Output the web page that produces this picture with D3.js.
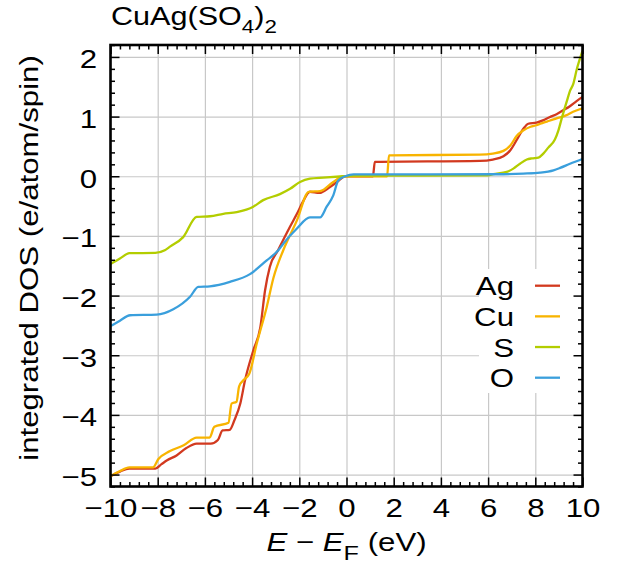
<!DOCTYPE html>
<html>
<head>
<meta charset="utf-8">
<script src="https://cdn.jsdelivr.net/npm/d3@7"></script>
<style>
  html, body { margin: 0; padding: 0; background: #fff; }
  svg { display: block; }
  text { font-family: "Liberation Sans", Arial, Helvetica, sans-serif; fill: #000; }
</style>
</head>
<body>
<svg id="chart" width="628" height="564"></svg>
<script>
// Integrated partial DOS of CuAg(SO4)2, per atom and spin, vs E - E_F (eV)
const agEnergy = [-10, -9.6, -9.2, -8.1, -7.85, -7.6, -7.2, -6.8, -6.35, -5.75, -5.45, -5.25, -4.95, -4.75, -4.5, -4.3, -3.95, -3.65, -3.45, -3.25, -2.9, -2.4, -2.1, -1.85, -1.55, -1.15, -0.7, -0.4, -0.05, 1.12, 1.2, 5.65, 6.2, 6.65, 6.95, 7.2, 7.5, 7.7, 8.05, 8.35, 8.6, 8.9, 9.2, 9.45, 9.75, 10];
const agIdos   = [-5.03, -4.95, -4.9, -4.9, -4.83, -4.76, -4.68, -4.56, -4.48, -4.48, -4.42, -4.26, -4.25, -4.09, -3.81, -3.42, -2.92, -2.53, -1.91, -1.52, -1.24, -0.85, -0.63, -0.43, -0.26, -0.28, -0.18, -0.095, 0, 0, 0.24, 0.257, 0.28, 0.335, 0.44, 0.6, 0.8, 0.88, 0.9, 0.94, 0.99, 1.04, 1.11, 1.17, 1.26, 1.33];

const cuEnergy = [-10, -9.6, -9.2, -8.2, -7.97, -7.5, -6.9, -6.35, -5.8, -5.6, -5.0, -4.87, -4.66, -4.55, -4.37, -4.12, -3.8, -3.38, -3.1, -2.68, -2.1, -1.6, -1.12, -0.56, -0.14, 1.72, 1.8, 5.65, 6.2, 6.65, 6.95, 7.2, 7.5, 7.8, 8.05, 8.35, 8.6, 8.9, 9.3, 9.6, 10];
const cuIdos   = [-5.03, -4.94, -4.88, -4.88, -4.74, -4.61, -4.51, -4.38, -4.38, -4.2, -4.13, -3.81, -3.78, -3.52, -3.42, -3.31, -2.8, -2.19, -1.71, -1.24, -0.74, -0.26, -0.25, -0.095, 0, 0, 0.35, 0.363, 0.38, 0.425, 0.52, 0.67, 0.77, 0.83, 0.855, 0.9, 0.93, 0.97, 1.02, 1.08, 1.14];

const sEnergy = [-10, -9.6, -9.2, -8.1, -7.7, -7.48, -6.92, -6.35, -5.78, -5.22, -4.65, -3.95, -3.53, -2.82, -2.39, -1.97, -1.55, -0.98, -0.14, 0.3, 6.0, 6.22, 6.79, 7.07, 7.35, 7.64, 7.85, 8.13, 8.34, 8.55, 8.83, 8.98, 9.12, 9.33, 9.47, 9.61, 9.75, 10];
const sIdos   = [-1.47, -1.38, -1.29, -1.285, -1.24, -1.18, -1.02, -0.68, -0.67, -0.63, -0.6, -0.51, -0.4, -0.3, -0.21, -0.095, -0.04, -0.022, 0, 0.01, 0.015, 0.034, 0.073, 0.128, 0.21, 0.28, 0.3, 0.313, 0.38, 0.48, 0.615, 0.77, 0.97, 1.25, 1.43, 1.55, 1.78, 2.1];

const oEnergy = [-10, -9.6, -9.17, -8.04, -7.34, -6.63, -6.28, -5.79, -4.94, -4.09, -3.38, -2.89, -2.68, -2.11, -1.55, -1.12, -0.84, -0.56, -0.35, -0.05, 0.3, 6.36, 7.49, 8.2, 8.77, 9.05, 9.47, 10];
const oIdos   = [-2.51, -2.42, -2.33, -2.32, -2.23, -2.02, -1.855, -1.845, -1.77, -1.64, -1.41, -1.24, -1.13, -0.88, -0.69, -0.69, -0.51, -0.32, -0.07, 0, 0.03, 0.034, 0.045, 0.061, 0.1, 0.14, 0.21, 0.29];

const seriesNames = ["Ag", "Cu", "S", "O"];
const xTicks = [-10, -8, -6, -4, -2, 0, 2, 4, 6, 8, 10];
const yTicks = [-5, -4, -3, -2, -1, 0, 1, 2];

const colors = { Ag: "#d2391f", Cu: "#f8b400", S: "#b3cd00", O: "#3a9fdc" };
const series = [
  { name: "Ag", e: agEnergy, n: agIdos },
  { name: "Cu", e: cuEnergy, n: cuIdos },
  { name: "S",  e: sEnergy,  n: sIdos },
  { name: "O",  e: oEnergy,  n: oIdos }
];

const svg = d3.select("#chart");
const plot = { left: 110.5, right: 582.5, top: 45, bottom: 486.5 };
const stretch = 1.2;      // horizontal widening of the label glyphs
const fontSize = 26;

const x = d3.scaleLinear().domain([-10, 10]).range([plot.left, plot.right]);
const y = d3.scaleLinear().domain([-5.2, 2.2]).range([plot.bottom, plot.top]);

const minorX = d3.range(-10, 10.001, 0.4).map(v => +v.toFixed(2)).filter(v => !xTicks.some(t => Math.abs(t - v) < 1e-6));
const minorY = d3.range(-5.2, 2.2001, 0.2).map(v => +v.toFixed(2)).filter(v => !yTicks.some(t => Math.abs(t - v) < 1e-6));

// widen text horizontally around its anchor point
function widen(sel) {
  sel.each(function () {
    const t = d3.select(this);
    const tx = +(t.attr("x") || 0);
    t.attr("x", 0).attr("transform", `translate(${tx},0) scale(${stretch},1)`);
  });
}

// grid
const grid = svg.append("g").attr("class", "grid");
grid.append("g")
  .attr("transform", `translate(0,${plot.bottom})`)
  .call(d3.axisBottom(x).tickValues(xTicks).tickSize(-(plot.bottom - plot.top)).tickFormat(""))
  .call(g => g.select(".domain").remove());
grid.append("g")
  .attr("transform", `translate(${plot.left},0)`)
  .call(d3.axisLeft(y).tickValues(yTicks).tickSize(-(plot.right - plot.left)).tickFormat(""))
  .call(g => g.select(".domain").remove());
grid.selectAll("line").attr("stroke", "#c8c8c8").attr("stroke-width", 1.2);

// curves
const line = d3.line().curve(d3.curveMonotoneX).x(d => x(d[0])).y(d => y(d[1]));
svg.append("g").selectAll("path")
  .data(series)
  .join("path")
  .attr("d", s => line(s.e.map((v, i) => [v, s.n[i]])))
  .attr("fill", "none")
  .attr("stroke", s => colors[s.name])
  .attr("stroke-width", 2.3)
  .attr("stroke-linejoin", "round");

// legend
const legendRows = d3.scalePoint().domain(seriesNames).range([285.7, 377.7]);
const legend = svg.append("g");
legend.append("rect")
  .attr("x", 479).attr("y", 269)
  .attr("width", plot.right - 479).attr("height", 124)
  .attr("fill", "#fff");
seriesNames.forEach(name => {
  const ly = legendRows(name);
  legend.append("line")
    .attr("x1", 535).attr("x2", 560).attr("y1", ly).attr("y2", ly)
    .attr("stroke", colors[name]).attr("stroke-width", 2.3);
  legend.append("g")
    .attr("transform", `translate(514,${ly + 9.5}) scale(${stretch},1)`)
    .append("text")
    .attr("text-anchor", "end")
    .attr("font-size", fontSize)
    .text(name);
});

// axes: major and minor ticks on all four sides, pointing inward
const axes = svg.append("g");
function tickGroup(axisFn, scale, values, size, tx, ty, labelled, padding) {
  const a = axisFn(scale).tickValues(values).tickSize(-size).tickPadding(padding || 0);
  if (!labelled) a.tickFormat("");
  const g = axes.append("g").attr("transform", `translate(${tx},${ty})`).call(a);
  g.select(".domain").remove();
  g.selectAll("line").attr("stroke", "#000").attr("stroke-width", 1.5);
  return g;
}
const bottomAxis = tickGroup(d3.axisBottom, x, xTicks, 9, 0, plot.bottom, true, 12.2);
tickGroup(d3.axisBottom, x, minorX, 4.5, 0, plot.bottom, false);
tickGroup(d3.axisTop, x, xTicks, 9, 0, plot.top, false);
tickGroup(d3.axisTop, x, minorX, 4.5, 0, plot.top, false);
const leftAxis = tickGroup(d3.axisLeft, y, yTicks, 9, plot.left, 0, true, 13.5);
tickGroup(d3.axisLeft, y, minorY, 4.5, plot.left, 0, false);
tickGroup(d3.axisRight, y, yTicks, 9, plot.right, 0, false);
tickGroup(d3.axisRight, y, minorY, 4.5, plot.right, 0, false);

[bottomAxis, leftAxis].forEach(g => {
  g.selectAll("text")
    .attr("font-size", fontSize)
    .attr("font-family", "Liberation Sans, Arial, sans-serif")
    .attr("fill", "#000");
});
leftAxis.selectAll("text").attr("dy", "0.42em");
widen(bottomAxis.selectAll("text"));
widen(leftAxis.selectAll("text"));

// frame
svg.append("rect")
  .attr("x", plot.left).attr("y", plot.top)
  .attr("width", plot.right - plot.left).attr("height", plot.bottom - plot.top)
  .attr("fill", "none").attr("stroke", "#000").attr("stroke-width", 2.6);

// title
const title = svg.append("g")
  .attr("transform", `translate(111,25) scale(${stretch * 0.98},1)`)
  .append("text").attr("font-size", fontSize);
title.append("tspan").text("CuAg(SO");
title.append("tspan").attr("font-size", 19).attr("dy", 8).text("4");
title.append("tspan").attr("dy", -8).text(")");
title.append("tspan").attr("font-size", 19).attr("dy", 8).text("2");

// x axis label
const xl = svg.append("g")
  .attr("transform", `translate(${(plot.left + plot.right) / 2},551) scale(${stretch},1)`)
  .append("text").attr("font-size", fontSize).attr("text-anchor", "middle");
xl.append("tspan").attr("font-style", "italic").text("E");
xl.append("tspan").text(" \u2212 ");
xl.append("tspan").attr("font-style", "italic").text("E");
xl.append("tspan").attr("font-size", 21).attr("dy", 9).text("F");
xl.append("tspan").attr("dy", -9).text(" (eV)");

// y axis label
svg.append("g")
  .attr("transform", `translate(38,258) rotate(-90) scale(${stretch},1)`)
  .append("text")
  .attr("font-size", fontSize)
  .attr("text-anchor", "middle")
  .text("integrated DOS (e/atom/spin)");
</script>
</body>
</html>
